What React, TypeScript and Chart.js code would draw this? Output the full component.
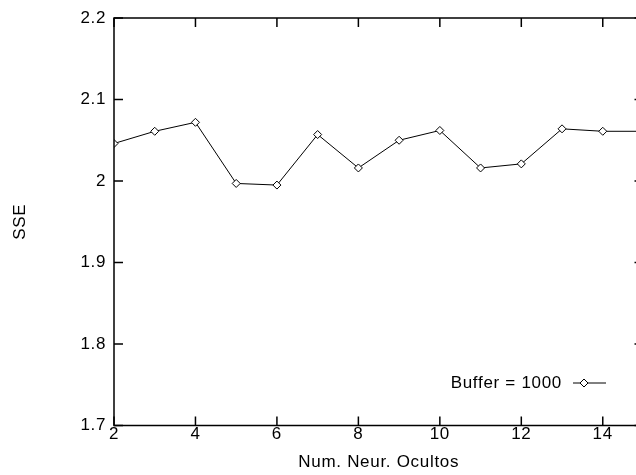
import React, { useEffect, useRef } from "react";
import { Chart, registerables } from "chart.js";

Chart.register(...registerables);

const NEURONS = [2, 3, 4, 5, 6, 7, 8, 9, 10, 11, 12, 13, 14, 15];
const SSE_VALUES = [2.046, 2.061, 2.072, 1.997, 1.995, 2.057, 2.016, 2.05, 2.062, 2.016, 2.021, 2.064, 2.061, 2.061];
const SERIES_LABEL = "Buffer = 1000";
const X_TICKS = [2, 4, 6, 8, 10, 12, 14];
const Y_TICKS = [1.7, 1.8, 1.9, 2.0, 2.1, 2.2];
const X_TITLE = "Num. Neur. Ocultos";
const Y_TITLE = "SSE";

const FONT_FAMILY = "'Liberation Sans', Arial, Helvetica, sans-serif";
const FONT_SIZE = 17;
const LETTER_SPACING = "0.7px";

const spacingPlugin = {
  id: "letterSpacing",
  beforeUpdate(chart: any) {
    chart.ctx.letterSpacing = LETTER_SPACING;
  },
  beforeDraw(chart: any) {
    chart.ctx.letterSpacing = LETTER_SPACING;
  },
};

const framePlugin = {
  id: "gnuplotFrame",
  afterDraw(chart: any) {
    const { ctx, chartArea, scales } = chart;
    const { left, right, top, bottom } = chartArea;
    const xs = scales.x;
    const ys = scales.y;
    ctx.save();
    ctx.strokeStyle = "#000";
    ctx.lineWidth = 1.5;
    ctx.strokeRect(left, top, right - left, bottom - top);
    const T = 9;
    ctx.beginPath();
    xs.ticks.forEach((t: any) => {
      const px = xs.getPixelForValue(t.value);
      ctx.moveTo(px, bottom);
      ctx.lineTo(px, bottom - T);
      ctx.moveTo(px, top);
      ctx.lineTo(px, top + T);
    });
    ys.ticks.forEach((t: any) => {
      const py = ys.getPixelForValue(t.value);
      ctx.moveTo(left, py);
      ctx.lineTo(left + T, py);
      ctx.moveTo(right, py);
      ctx.lineTo(right - T, py);
    });
    ctx.stroke();

    // legend (gnuplot style: text then sample)
    const label = chart.data.datasets[0].label;
    const ly = bottom - 42.5;
    ctx.letterSpacing = LETTER_SPACING;
    ctx.font = `${FONT_SIZE}px ${FONT_FAMILY}`;
    ctx.fillStyle = "#000";
    ctx.textAlign = "right";
    ctx.textBaseline = "middle";
    ctx.fillText(label, right - 81.5, ly);
    ctx.lineWidth = 1;
    ctx.beginPath();
    ctx.moveTo(right - 70.5, ly);
    ctx.lineTo(right - 37.5, ly);
    ctx.stroke();
    const cx = right - 59.5;
    const r = 4;
    ctx.beginPath();
    ctx.moveTo(cx, ly - r);
    ctx.lineTo(cx + r, ly);
    ctx.lineTo(cx, ly + r);
    ctx.lineTo(cx - r, ly);
    ctx.closePath();
    ctx.fillStyle = "#fff";
    ctx.fill();
    ctx.stroke();
    ctx.restore();
  },
};

export default function App() {
  const canvasRef = useRef<HTMLCanvasElement | null>(null);

  useEffect(() => {
    const canvas = canvasRef.current;
    if (!canvas) return;
    Chart.defaults.font.family = FONT_FAMILY;
    Chart.defaults.font.size = FONT_SIZE;
    Chart.defaults.color = "#000";

    const chart = new Chart(canvas, {
      type: "line",
      data: {
        datasets: [
          {
            label: SERIES_LABEL,
            data: NEURONS.map((n, i) => ({ x: n, y: SSE_VALUES[i] })),
            borderColor: "#000",
            borderWidth: 1,
            pointStyle: "rectRot",
            pointRadius: 4,
            pointBorderWidth: 1,
            pointBorderColor: "#000",
            pointBackgroundColor: "#fff",
            fill: false,
            tension: 0,
          },
        ],
      },
      options: {
        responsive: false,
        animation: false,
        devicePixelRatio: 1,
        layout: { padding: { top: 15, right: 16.5, left: 0, bottom: 0 } },
        plugins: {
          legend: { display: false },
          tooltip: { enabled: false },
        },
        scales: {
          x: {
            type: "linear",
            min: 2,
            max: 15,
            grid: { display: false, drawTicks: false },
            border: { display: false },
            afterBuildTicks: (s: any) => {
              s.ticks = X_TICKS.map((v) => ({ value: v }));
            },
            afterFit: (s: any) => {
              s.height = 49.5;
            },
            ticks: {
              padding: -1.7,
              maxRotation: 0,
              autoSkip: false,
              font: { size: FONT_SIZE },
              callback: (v: any) => String(v),
            },
            title: {
              display: true,
              text: X_TITLE,
              font: { size: FONT_SIZE },
              padding: { top: 0, bottom: 2.8 },
            },
          },
          y: {
            type: "linear",
            min: 1.7,
            max: 2.2,
            grid: { display: false, drawTicks: false },
            border: { display: false },
            afterBuildTicks: (s: any) => {
              s.ticks = Y_TICKS.map((v) => ({ value: v }));
            },
            afterFit: (s: any) => {
              s.width = 114;
            },
            ticks: {
              padding: 7.8,
              autoSkip: false,
              font: { size: FONT_SIZE },
              callback: (v: any) => String(Number(Number(v).toFixed(1))),
            },
            title: {
              display: true,
              text: Y_TITLE,
              font: { size: FONT_SIZE },
              padding: { top: 9.8, bottom: 0 },
            },
          },
        },
      },
      plugins: [spacingPlugin, framePlugin],
    });

    return () => chart.destroy();
  }, []);

  return (
    <div
      style={{
        position: "fixed",
        left: 0,
        top: 0,
        width: 636,
        height: 475,
        overflow: "hidden",
        background: "#fff",
      }}
    >
      <canvas ref={canvasRef} width={660} height={475} style={{ display: "block", width: 660, height: 475 }} />
    </div>
  );
}
